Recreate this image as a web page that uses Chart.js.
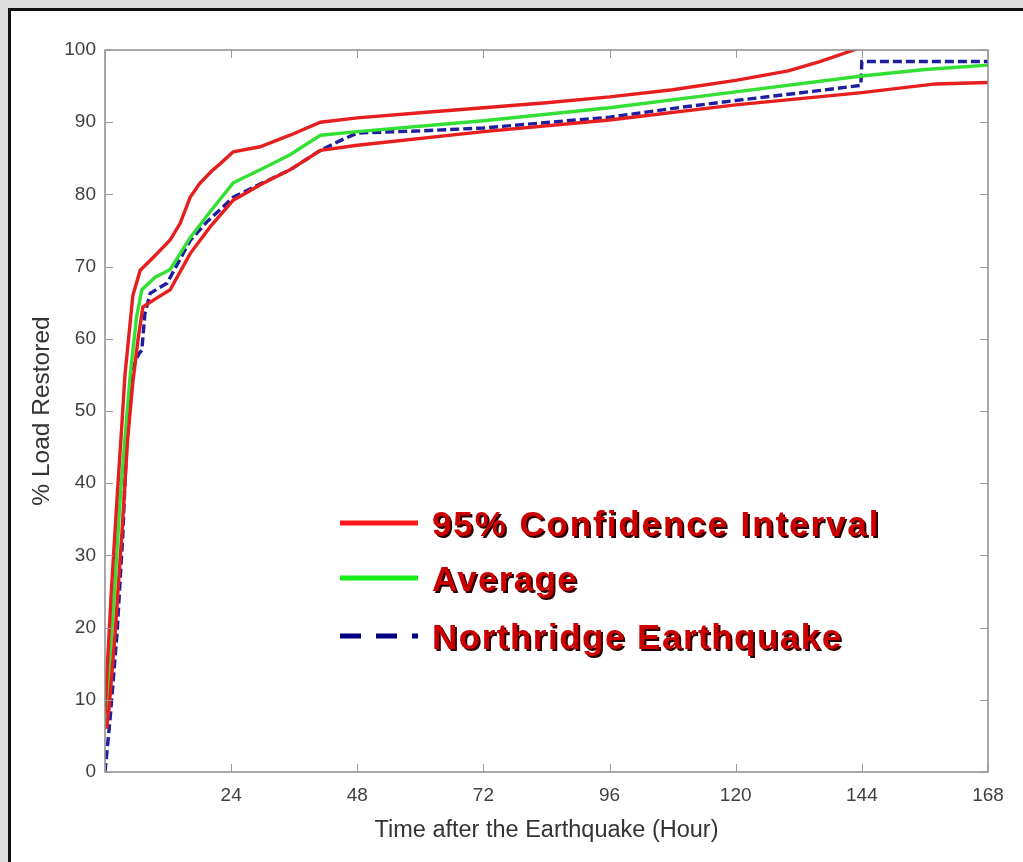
<!DOCTYPE html>
<html><head><meta charset="utf-8">
<script src="https://cdn.jsdelivr.net/npm/chart.js@4"></script>
<style>
html,body{margin:0;padding:0;background:#dcdcdc;width:1023px;height:862px;overflow:hidden;}
#panel{position:absolute;left:8px;top:8px;width:1100px;height:1000px;background:#fff;border:3px solid #111;box-sizing:border-box;}
#c{position:absolute;left:0;top:0;}
</style></head><body>
<div id="panel"></div>
<canvas id="c" width="1023" height="862"></canvas>
<script>
// ---- data (hours, % load restored) ----
const upperX = [0, 0.4, 1.2, 2.3, 3.2, 3.8, 5.3, 6.7, 9.5, 12.4, 14.3, 16.2, 18, 20.4, 22, 24.4, 29.5, 35.2, 41, 48, 60, 72, 84, 96, 108, 120, 130, 136, 142.5, 150];
const upperY = [8, 14, 25, 38, 48, 55, 66, 69.5, 71.5, 73.7, 76, 79.6, 81.5, 83.3, 84.3, 85.9, 86.6, 88.2, 90, 90.6, 91.3, 92, 92.7, 93.5, 94.5, 95.8, 97.1, 98.4, 100, 101.8];

const avgX = [0, 0.6, 1.8, 2.9, 4.0, 4.8, 6.0, 7.0, 9.5, 12.4, 16.2, 20, 24.4, 30, 35.2, 41, 48, 72, 96, 120, 144, 156, 168];
const avgY = [6, 12, 25, 38, 48, 55, 63, 66.8, 68.5, 69.6, 74, 77.6, 81.6, 83.6, 85.5, 88.2, 88.7, 90.2, 92, 94.2, 96.4, 97.3, 97.9];

const lowerX = [0.3, 0.8, 2.0, 3.3, 4.3, 5.3, 6.3, 7.2, 9.5, 12.4, 16.2, 20, 24.4, 30, 35.2, 41, 48, 72, 96, 120, 144, 158, 168];
const lowerY = [6, 9, 20, 34, 46, 54, 60, 64.4, 65.5, 66.8, 71.8, 75.5, 79.2, 81.5, 83.4, 86.1, 86.8, 88.7, 90.3, 92.4, 94.1, 95.3, 95.5];

const northX = [0, 1, 2.3, 3.4, 4.2, 5.3, 6.5, 7.0, 7.6, 8.6, 11.8, 16.2, 19.4, 24.4, 30, 35.2, 41, 44, 48, 60, 72, 96, 110, 120, 135, 143.8, 144, 168];
const northY = [0, 7.6, 19.3, 33, 47, 56, 58, 58.4, 63.5, 66.3, 67.7, 73.6, 76.2, 79.6, 81.6, 83.4, 86.1, 87.2, 88.5, 88.8, 89.2, 90.7, 92.1, 93, 94.3, 95.1, 98.4, 98.4];

const xTicks = [0, 24, 48, 72, 96, 120, 144, 168];
const yTicks = [0, 10, 20, 30, 40, 50, 60, 70, 80, 90, 100];

const legendLabels = ['95% Confidence Interval', 'Average', 'Northridge Earthquake'];
const xTitle = 'Time after the Earthquake (Hour)';
const yTitle = '% Load Restored';

// ---- styles ----
const RED = '#e61e1e', GREEN = '#33e033', BLUE = '#1e1ea0';
const pts = (xs, ys) => xs.map((x, i) => ({x, y: ys[i]}));
const lineDs = (label, xs, ys, color, extra) => Object.assign({
  label, data: pts(xs, ys), borderColor: color, backgroundColor: color,
  borderWidth: 3.4, showLine: true, pointRadius: 0, fill: false, tension: 0
}, extra || {});

const framePlugin = {
  id: 'frame',
  afterDatasetsDraw(chart) {
    const {ctx, chartArea: a, scales: {x, y}} = chart;
    ctx.save();
    ctx.strokeStyle = '#8c8c8c';
    ctx.lineWidth = 1.5;
    ctx.strokeRect(a.left, a.top, a.right - a.left, a.bottom - a.top);
    ctx.lineWidth = 1;
    ctx.strokeStyle = '#9a9a9a';
    const L = 8;
    ctx.beginPath();
    xTicks.forEach(v => {
      const px = Math.round(x.getPixelForValue(v)) + 0.5;
      ctx.moveTo(px, a.bottom); ctx.lineTo(px, a.bottom - L);
      ctx.moveTo(px, a.top); ctx.lineTo(px, a.top + L);
    });
    yTicks.forEach(v => {
      const py = Math.round(y.getPixelForValue(v)) + 0.5;
      ctx.moveTo(a.left, py); ctx.lineTo(a.left + L, py);
      ctx.moveTo(a.right, py); ctx.lineTo(a.right - L, py);
    });
    ctx.stroke();
    ctx.restore();
  },
  afterDraw(chart) {
    const {ctx} = chart;
    const rows = [
      {y: 523, color: '#ff1a1a', dash: [], ls: '1.9px'},
      {y: 578, color: '#1aee1a', dash: [], ls: '1.3px'},
      {y: 636, color: '#000080', dash: [21, 15], ls: '1.5px'}
    ];
    ctx.save();
    rows.forEach((r, i) => {
      ctx.beginPath();
      ctx.setLineDash(r.dash);
      ctx.strokeStyle = r.color;
      ctx.lineWidth = 5;
      ctx.moveTo(340, r.y); ctx.lineTo(418, r.y);
      ctx.stroke();
      ctx.setLineDash([]);
      ctx.font = 'bold 35px "Liberation Sans", Arial, sans-serif';
      ctx.letterSpacing = r.ls;
      ctx.textBaseline = 'alphabetic';
      ctx.textAlign = 'left';
      const by = r.y + 12.5;
      ctx.fillStyle = '#2a0000';
      ctx.fillText(legendLabels[i], 434, by + 2);
      ctx.fillStyle = '#cc0000';
      ctx.fillText(legendLabels[i], 432, by);
    });
    ctx.restore();
  }
};

const tickFont = {family: '"Liberation Sans", Arial, sans-serif', size: 19};
const xTitleFont = {family: '"Liberation Sans", Arial, sans-serif', size: 23.5};
const yTitleFont = {family: '"Liberation Sans", Arial, sans-serif', size: 24.5};

new Chart(document.getElementById('c'), {
  type: 'scatter',
  data: {
    datasets: [
      lineDs('Upper 95%', upperX, upperY, RED),
      lineDs('Lower 95%', lowerX, lowerY, RED),
      lineDs('Average', avgX, avgY, GREEN),
      lineDs('Northridge Earthquake', northX, northY, BLUE, {borderDash: [9, 4]})
    ]
  },
  options: {
    responsive: false,
    animation: false,
    devicePixelRatio: 1,
    layout: {padding: {left: 0, top: 50, right: 35, bottom: 0}},
    plugins: {legend: {display: false}, tooltip: {enabled: false}},
    scales: {
      x: {
        type: 'linear', min: 0, max: 168,
        afterFit(s) { s.height = 90; },
        afterBuildTicks(s) { s.ticks = xTicks.map(v => ({value: v})); },
        ticks: {autoSkip: false, padding: 12, color: '#404040', font: tickFont, maxRotation: 0,
          callback: v => v === 0 ? '' : String(v)},
        grid: {display: false, drawTicks: false},
        border: {display: false},
        title: {display: true, text: xTitle, color: '#333', font: xTitleFont, padding: {top: 0, bottom: 17}}
      },
      y: {
        type: 'linear', min: 0, max: 100,
        afterFit(s) { s.width = 105; },
        afterBuildTicks(s) { s.ticks = yTicks.map(v => ({value: v})); },
        ticks: {autoSkip: false, padding: 9, color: '#404040', font: tickFont},
        grid: {display: false, drawTicks: false},
        border: {display: false},
        title: {display: true, text: yTitle, color: '#333', font: yTitleFont, padding: {top: 28, bottom: 0}}
      }
    }
  },
  plugins: [framePlugin]
});
</script>
</body></html>
